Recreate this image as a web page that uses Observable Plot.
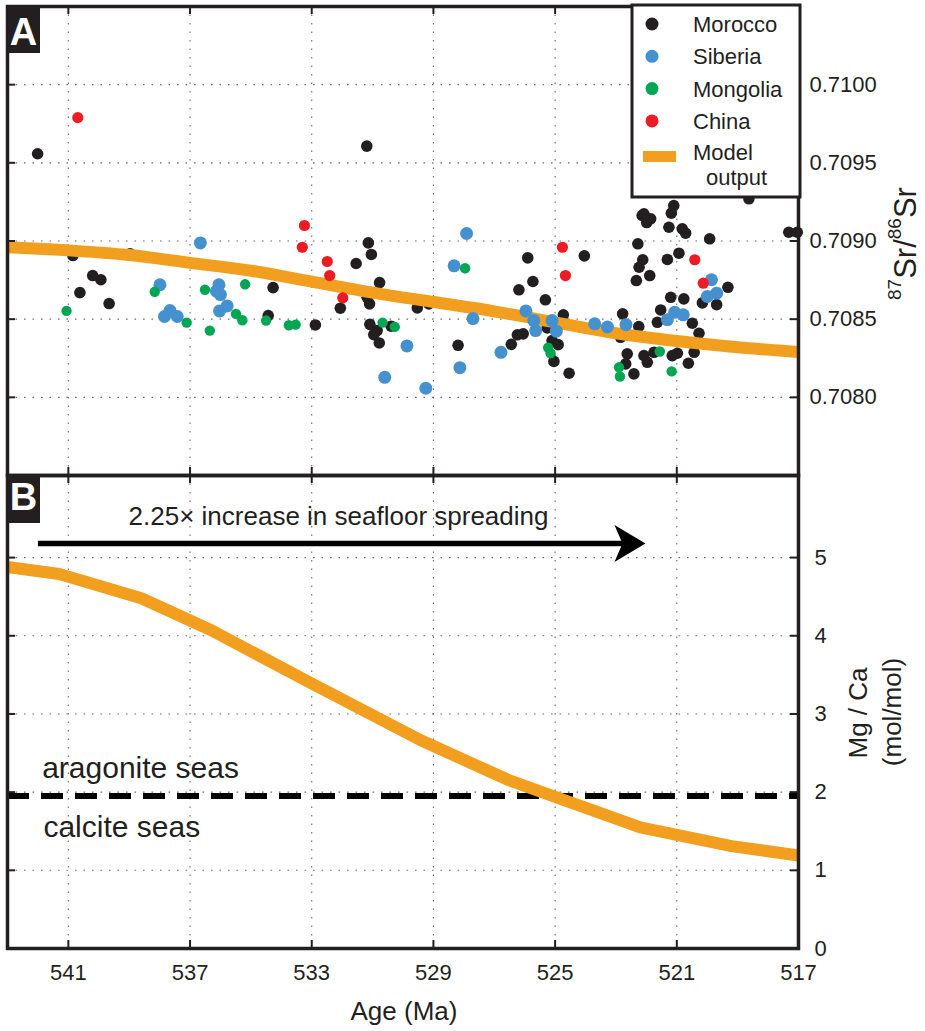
<!DOCTYPE html>
<html><head><meta charset="utf-8">
<script src="https://cdn.jsdelivr.net/npm/d3@7"></script>
<script src="https://cdn.jsdelivr.net/npm/@observablehq/plot@0.6"></script>
<style>
body{margin:0;background:#fff;}
#wrap{position:relative;width:925px;height:1031px;overflow:hidden;font-family:"Liberation Sans",Arial,Helvetica,sans-serif;}
#wrap svg{position:absolute;left:0;overflow:visible;}
</style></head><body><div id="wrap"></div>
<script>
// ---------- data ----------
const ageTicks = [541, 537, 533, 529, 525, 521, 517];
const srTicks = [0.7080, 0.7085, 0.7090, 0.7095, 0.7100];
const mgTicks = [0, 1, 2, 3, 4, 5];
const countries = ["Morocco", "Siberia", "Mongolia", "China"];
const countryColors = ["#231f20", "#4591cf", "#00a651", "#ed1c24"];
const modelColor = "#f29f1f";

// [age (Ma), 87Sr/86Sr]
const morocco = [
  [542.01,0.709558],[531.19,0.709607],[531.14,0.708988],[540.85,0.708907],[538.97,0.708918],
  [540.20,0.708779],[539.93,0.708752],[540.62,0.708670],[539.66,0.708600],[534.27,0.708702],
  [534.43,0.708523],[532.88,0.708463],[532.06,0.708570],[531.04,0.708914],[531.54,0.708856],
  [530.77,0.708734],[531.10,0.708598],[531.18,0.708640],[531.09,0.708467],[530.85,0.708427],
  [530.96,0.708401],[530.78,0.708348],[530.39,0.708455],[529.53,0.708572],[529.15,0.708598],
  [528.19,0.708333],[525.90,0.708892],[524.04,0.708905],[525.73,0.708741],[526.19,0.708688],
  [525.32,0.708624],[524.73,0.708528],[525.26,0.708444],[526.24,0.708400],[526.05,0.708406],
  [526.44,0.708339],[525.10,0.708363],[524.90,0.708337],[525.04,0.708230],[524.54,0.708154],
  [522.08,0.709174],[522.14,0.709163],[521.86,0.709142],[521.99,0.709118],[521.10,0.709227],
  [521.18,0.709178],[521.26,0.709088],[520.82,0.709078],[520.71,0.709050],[519.92,0.709014],
  [522.28,0.708982],[520.93,0.708922],[521.31,0.708882],[522.12,0.708880],[522.24,0.708832],
  [521.89,0.708779],[522.33,0.708747],[519.32,0.708704],[520.16,0.708604],[519.69,0.708593],
  [521.20,0.708640],[520.77,0.708630],[521.53,0.708559],[522.78,0.708534],[522.25,0.708453],
  [522.85,0.708384],[521.64,0.708480],[520.49,0.708474],[520.27,0.708410],[520.43,0.708288],
  [520.98,0.708282],[521.15,0.708267],[521.75,0.708288],[522.08,0.708267],[521.97,0.708224],
  [522.63,0.708278],[522.68,0.708214],[522.41,0.708150],[520.62,0.708218],[518.63,0.709270],
  [517.32,0.709056],[517.04,0.709056]
];
const siberia = [
  [536.66,0.708988],[527.91,0.709048],[537.99,0.708720],[537.66,0.708555],[537.84,0.708517],
  [537.42,0.708517],[536.05,0.708720],[536.13,0.708679],[536.00,0.708657],[535.78,0.708585],
  [536.03,0.708553],[529.87,0.708329],[530.60,0.708128],[529.25,0.708058],[528.32,0.708841],
  [527.70,0.708504],[528.13,0.708190],[525.96,0.708553],[525.70,0.708491],[525.10,0.708491],
  [525.64,0.708427],[524.96,0.708423],[526.78,0.708288],[523.70,0.708470],[523.28,0.708450],
  [519.86,0.708752],[520.00,0.708645],[519.69,0.708666],[521.07,0.708544],[520.79,0.708528],
  [521.31,0.708497],[522.67,0.708465]
];
const mongolia = [
  [541.06,0.708553],[538.16,0.708675],[537.11,0.708478],[536.35,0.708427],[536.51,0.708688],
  [535.49,0.708534],[535.28,0.708493],[535.19,0.708723],[534.50,0.708491],[533.75,0.708461],
  [533.53,0.708465],[530.67,0.708478],[530.27,0.708451],[527.96,0.708826],[525.23,0.708318],
  [525.15,0.708282],[522.90,0.708192],[522.87,0.708133],[521.56,0.708293],[521.17,0.708166]
];
const china = [
  [540.69,0.709789],[533.24,0.709099],[533.31,0.708960],[532.49,0.708869],[532.41,0.708779],
  [531.98,0.708636],[524.76,0.708960],[524.66,0.708779],[520.41,0.708880],[520.13,0.708730]
];

// model output
const modelSrAge = [543, 541, 539, 537, 535, 533, 531, 529, 527, 525, 523, 521, 519, 517];
const modelSr = [0.70896, 0.70894, 0.70891, 0.70886, 0.70881, 0.70874, 0.70867, 0.70861, 0.70855, 0.70848, 0.70841, 0.70836, 0.70832, 0.70829];
const modelMgAge = [543, 541.3, 538.6, 536.3, 533, 529.4, 526.5, 525, 522.2, 519.2, 517];
const modelMg = [4.88, 4.79, 4.48, 4.07, 3.39, 2.66, 2.15, 1.94, 1.55, 1.31, 1.19];

const calciteAragoniteBoundary = 1.95;
const spreadingArrowAge = [542.0, 522.6];
const spreadingArrowTipAge = 522.03;
const spreadingArrowLevel = 5.18;
const annotations = [
  {text: "2.25\u00d7 increase in seafloor spreading", age: 539.02, level: 5.423, size: 26},
  {text: "aragonite seas", age: 541.86, level: 2.187, size: 30},
  {text: "calcite seas", age: 541.82, level: 1.42, size: 30}
];

// ---------- drawing ----------
const dark = "#231f20";
const font = "Liberation Sans, Arial, Helvetica, sans-serif";
const W = 925, ML = 7, MR = 127, innerW = W - ML - MR;
const gridOpts = {stroke: "#6b6b6b", strokeOpacity: 1, strokeWidth: 1.1, strokeDasharray: "1.6,6.9"};
const xDomain = [543, 517];
const toRows = (arr) => arr.map(([age, sr]) => ({age, sr}));
const modelSrRows = modelSrAge.map((a, i) => ({age: a, sr: modelSr[i]}));
const modelMgRows = modelMgAge.map((a, i) => ({age: a, mg: modelMg[i]}));

function ticksMarks(innerH, yTicks) {
  const L = 8;
  return [
    Plot.ruleX(ageTicks, {x: d => d, insetBottom: innerH - L, stroke: dark, strokeWidth: 2}),
    Plot.ruleX(ageTicks, {x: d => d, insetTop: innerH - L, stroke: dark, strokeWidth: 2}),
    Plot.ruleY(yTicks, {y: d => d, insetRight: innerW - L, stroke: dark, strokeWidth: 2}),
    Plot.ruleY(yTicks, {y: d => d, insetLeft: innerW - L, stroke: dark, strokeWidth: 2})
  ];
}

const HA = 477, MTA = 6, MBA = 2;
const plotA = Plot.plot({
  width: W, height: HA, marginTop: MTA, marginBottom: MBA, marginLeft: ML, marginRight: MR,
  x: {domain: xDomain, axis: null},
  y: {domain: [0.7075, 0.7105]},
  style: {fontFamily: font, fontSize: "22px", color: dark, background: "transparent", overflow: "visible"},
  marks: [
    Plot.gridX(ageTicks.slice(0, -1), gridOpts),
    Plot.gridY(srTicks, gridOpts),
    Plot.dot(toRows(morocco), {x: "age", y: "sr", r: 5.8, fill: countryColors[0]}),
    Plot.line(modelSrRows, {x: "age", y: "sr", stroke: modelColor, strokeWidth: 12, curve: "monotone-x", strokeLinecap: "butt"}),
    Plot.dot(toRows(siberia), {x: "age", y: "sr", r: 6.5, fill: countryColors[1]}),
    Plot.dot(toRows(mongolia), {x: "age", y: "sr", r: 5.2, fill: countryColors[2]}),
    Plot.dot(toRows(china), {x: "age", y: "sr", r: 5.6, fill: countryColors[3]}),
    ...ticksMarks(HA - MTA - MBA, srTicks),
    Plot.frame({stroke: dark, strokeWidth: 3.5}),
    Plot.axisY(srTicks, {anchor: "right", tickSize: 0, tickPadding: 11, tickFormat: d3.format(".4f"), fontSize: 22, label: null, fill: dark})
  ]
});
plotA.style.top = "0px";

const arrowHead = {
  draw(ctx) {
    ctx.moveTo(0, 0);
    ctx.lineTo(-31, -18.5);
    ctx.lineTo(-23, 0);
    ctx.lineTo(-31, 18.5);
    ctx.closePath();
  }
};

const HB = 558, MTB = 2, MBB = 83;
const plotB = Plot.plot({
  width: W, height: HB, marginTop: MTB, marginBottom: MBB, marginLeft: ML, marginRight: MR,
  x: {domain: xDomain},
  y: {domain: [0, 6.05]},
  style: {fontFamily: font, fontSize: "22px", color: dark, background: "transparent", overflow: "visible"},
  marks: [
    Plot.gridX(ageTicks.slice(0, -1), gridOpts),
    Plot.gridY(mgTicks.slice(1), gridOpts),
    Plot.ruleY([calciteAragoniteBoundary], {y: d => d, stroke: "#000", strokeWidth: 6, strokeDasharray: "22,12"}),
    Plot.line(modelMgRows, {x: "age", y: "mg", stroke: modelColor, strokeWidth: 12, curve: "linear", strokeLinecap: "butt", strokeLinejoin: "round"}),
    Plot.link([{x1: spreadingArrowAge[0], x2: spreadingArrowAge[1], y: spreadingArrowLevel}],
      {x1: "x1", x2: "x2", y1: "y", y2: "y", stroke: "#000", strokeWidth: 5.5}),
    Plot.dot([{x: spreadingArrowTipAge, y: spreadingArrowLevel}], {x: "x", y: "y", symbol: arrowHead, fill: "#000", stroke: "none", r: 10}),
    ...annotations.map(a => Plot.text([a], {x: "age", y: "level", text: "text", fontSize: a.size, textAnchor: "start", lineAnchor: "bottom", fill: dark})),
    ...ticksMarks(HB - MTB - MBB, mgTicks),
    Plot.frame({stroke: dark, strokeWidth: 3.5}),
    Plot.axisY(mgTicks, {anchor: "right", tickSize: 0, tickPadding: 16, tickFormat: d3.format("d"), fontSize: 22, label: null, fill: dark}),
    Plot.axisX(ageTicks, {anchor: "bottom", tickSize: 0, tickPadding: 16, tickFormat: d3.format("d"), fontSize: 22, label: null, fill: dark})
  ]
});
plotB.style.top = "473px";

const wrap = document.getElementById("wrap");
wrap.appendChild(plotA);
wrap.appendChild(plotB);

// ---------- overlay: panel letters, legend, axis titles ----------
const ov = d3.select(wrap).append("svg")
  .attr("width", W).attr("height", 1031)
  .style("top", "0px").style("pointer-events", "none")
  .attr("font-family", font).attr("fill", dark);

[["A", 5, 45], ["B", 475, 510]].forEach(([t, top, base]) => {
  ov.append("rect").attr("x", 7).attr("y", top).attr("width", 33).attr("height", 48).attr("fill", dark);
  ov.append("text").attr("x", 23.5).attr("y", base).attr("text-anchor", "middle")
    .attr("font-size", 38).attr("font-weight", "bold").attr("fill", "#fff").text(t);
});

// legend
const lg = ov.append("g");
lg.append("rect").attr("x", 632).attr("y", 5).attr("width", 168).attr("height", 192)
  .attr("fill", "#fff").attr("stroke", dark).attr("stroke-width", 3);
countries.forEach((c, i) => {
  const cy = 24 + i * 32.3;
  lg.append("circle").attr("cx", 652).attr("cy", cy).attr("r", 6.5).attr("fill", countryColors[i]);
  lg.append("text").attr("x", 693).attr("y", cy + 8).attr("font-size", 22).text(c);
});
lg.append("rect").attr("x", 643).attr("y", 151).attr("width", 33).attr("height", 11).attr("fill", modelColor);
lg.append("text").attr("x", 693).attr("y", 160).attr("font-size", 22).text("Model");
lg.append("text").attr("x", 706).attr("y", 185).attr("font-size", 22).text("output");

// y title panel A
const srT = ov.append("text").attr("transform", "translate(916,300) rotate(-90)")
  .attr("text-anchor", "start").attr("font-size", 31);
srT.append("tspan").attr("font-size", 19).attr("dy", -15).text("87");
srT.append("tspan").attr("dy", 15).text("Sr/");
srT.append("tspan").attr("font-size", 19).attr("dy", -15).text("86");
srT.append("tspan").attr("dy", 15).text("Sr");

// y title panel B
ov.append("text").attr("transform", "translate(867,713) rotate(-90)").attr("text-anchor", "middle")
  .attr("font-size", 26).text("Mg / Ca");
ov.append("text").attr("transform", "translate(901,712) rotate(-90)").attr("text-anchor", "middle")
  .attr("font-size", 26).text("(mol/mol)");

// x title
ov.append("text").attr("x", 404).attr("y", 1020).attr("text-anchor", "middle")
  .attr("font-size", 26).text("Age (Ma)");
</script></body></html>
